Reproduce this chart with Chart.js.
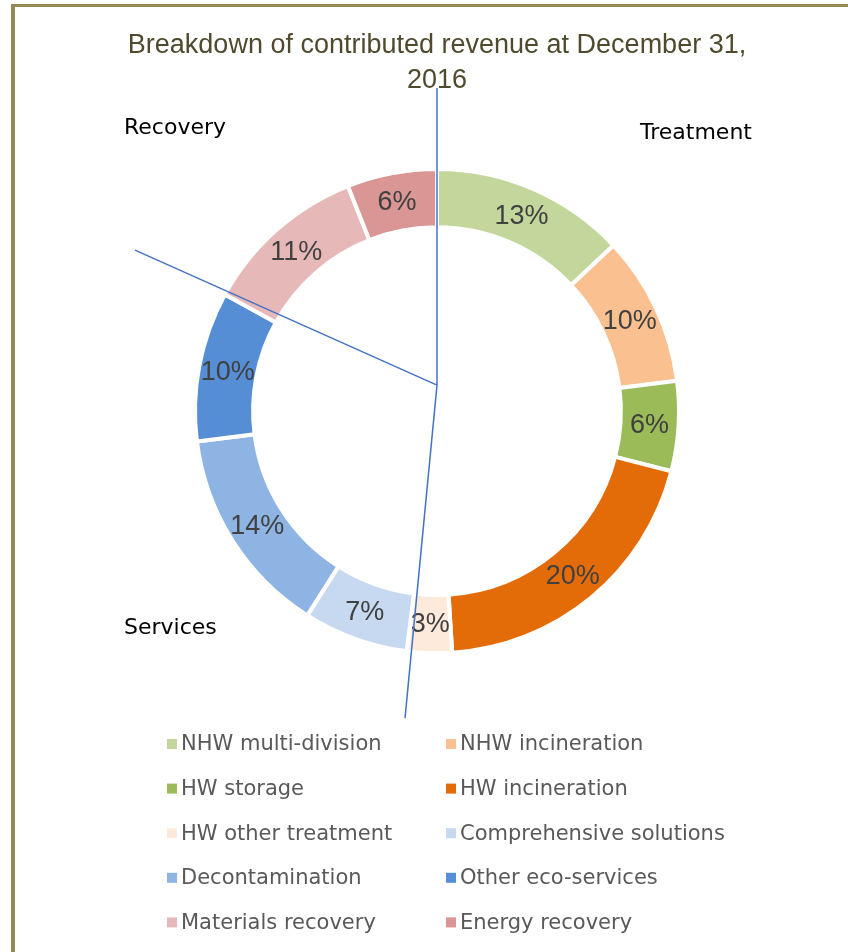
<!DOCTYPE html>
<html>
<head>
<meta charset="utf-8">
<script src="https://cdn.jsdelivr.net/npm/chart.js@4/dist/chart.umd.min.js"></script>
<style>
  html, body { margin: 0; padding: 0; background: #fff; }
  #wrap { width: 848px; height: 952px; position: relative; }
</style>
</head>
<body>
<div id="wrap"><canvas id="chart" width="848" height="952"></canvas></div>
<script>
// data
const categories = ['NHW multi-division', 'NHW incineration', 'HW storage', 'HW incineration',
  'HW other treatment', 'Comprehensive solutions', 'Decontamination', 'Other eco-services',
  'Materials recovery', 'Energy recovery'];
const shares = [13, 10, 6, 20, 3, 7, 14, 10, 11, 6];
const sliceColors = ['#C3D69B', '#FAC090', '#9BBB59', '#E36C09', '#FDEADA',
  '#C6D9F1', '#8EB4E3', '#558ED5', '#E6B9B8', '#D99694'];
const titleLines = ['Breakdown of contributed revenue at December 31,', '2016'];
const groupNames = ['Recovery', 'Treatment', 'Services'];

const FONT = "'DejaVu Sans', sans-serif";

// frame + group labels + separator lines
const decorPlugin = {
  id: 'decor',
  beforeDraw(chart) {
    const ctx = chart.ctx;
    ctx.save();
    ctx.fillStyle = '#fff';
    ctx.fillRect(0, 0, chart.width, chart.height);
    ctx.fillStyle = '#958A55';
    ctx.fillRect(11, 4, chart.width - 11, 3);
    ctx.fillRect(11, 4, 4, chart.height - 4);
    ctx.restore();
  },
  afterDatasetsDraw(chart) {
    const ctx = chart.ctx;
    const arc = chart.getDatasetMeta(0).data[0];
    const cx = arc.x, cy = arc.y;
    // labels inside slices
    ctx.save();
    ctx.font = "27px 'Liberation Sans', Arial, sans-serif";
    ctx.fillStyle = '#404040';
    ctx.textAlign = 'center';
    ctx.textBaseline = 'middle';
    chart.getDatasetMeta(0).data.forEach((a, i) => {
      const p = a.tooltipPosition();
      ctx.fillText(shares[i] + '%', p.x, p.y + 1);
    });
    ctx.restore();

    // separator lines meeting near the centre
    const hub = { x: cx, y: cy - 26 };
    const ends = [[0, -323], [-302, -161], [-32, 307]];
    ctx.save();
    ctx.strokeStyle = '#4472C4';
    ctx.lineWidth = 1.5;
    ends.forEach(e => {
      ctx.beginPath();
      ctx.moveTo(hub.x, hub.y);
      ctx.lineTo(cx + e[0], cy + e[1]);
      ctx.stroke();
    });
    ctx.restore();

    // group names
    ctx.save();
    ctx.font = '22px ' + FONT;
    ctx.fillStyle = '#000';
    ctx.textBaseline = 'middle';
    ctx.fillText(groupNames[0], 124, 128);
    ctx.fillText(groupNames[1], 640, 133);
    ctx.fillText(groupNames[2], 124, 628);
    ctx.restore();

    // two column legend
    ctx.save();
    ctx.font = '21px ' + FONT;
    ctx.fillStyle = '#595959';
    ctx.textBaseline = 'middle';
    categories.forEach((c, i) => {
      const col = i % 2, row = Math.floor(i / 2);
      const x = col === 0 ? 167 : 446;
      const y = 744 + row * 44.6;
      ctx.fillStyle = sliceColors[i];
      ctx.fillRect(x, y - 5, 10, 10);
      ctx.fillStyle = '#595959';
      ctx.fillText(c, x + 14, y + 1);
    });
    ctx.restore();
  }
};

new Chart(document.getElementById('chart'), {
  type: 'doughnut',
  data: {
    labels: categories,
    datasets: [{
      data: shares,
      backgroundColor: sliceColors,
      borderColor: '#fff',
      borderWidth: 4
    }]
  },
  options: {
    responsive: false,
    animation: false,
    radius: 242,
    cutout: '76%',
    layout: { padding: { top: 20, left: 26, right: 0, bottom: 250 } },
    plugins: {
      legend: { display: false },
      tooltip: { enabled: false },
      title: {
        display: true,
        text: titleLines,
        color: '#4F4A2E',
        font: { family: "'Liberation Sans', Arial, sans-serif", size: 27, weight: 'normal', lineHeight: 1.3 },
        padding: { top: 8, bottom: 22 }
      }
    }
  },
  plugins: [decorPlugin]
});
</script>
</body>
</html>
